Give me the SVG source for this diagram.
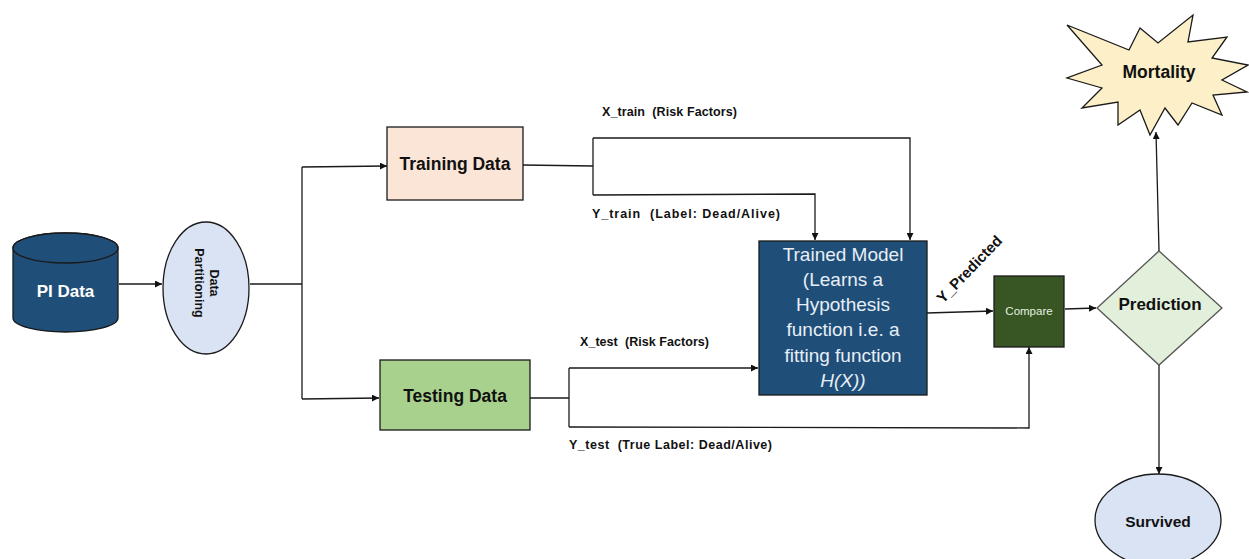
<svg xmlns="http://www.w3.org/2000/svg" width="1249" height="559" viewBox="0 0 1249 559">
<style>
  text { font-family: "Liberation Sans", Arial, sans-serif; }
  .b { font-weight: bold; fill: #111; }
  .lbl { font-size: 12.5px; font-weight: bold; fill: #111; white-space: pre; }
  .edge { fill: none; stroke: #1a1a1a; stroke-width: 1.3; }
  .node { stroke: #1a1a1a; stroke-width: 1.3; }
</style>
<defs>
  <marker id="arr" viewBox="0 0 10 10" refX="10" refY="5" markerWidth="7" markerHeight="7" markerUnits="userSpaceOnUse" orient="auto">
    <path d="M0,0 L10,5 L0,10 z" fill="#111"/>
  </marker>
</defs>
<rect width="1249" height="559" fill="#ffffff"/>

<g id="connectors">
  <line class="edge" x1="119" y1="284" x2="162" y2="284" marker-end="url(#arr)"/>
  <polyline class="edge" points="250,284 302,284"/>
  <polyline class="edge" points="302,167 302,399"/>
  <line class="edge" x1="302" y1="167" x2="387" y2="166" marker-end="url(#arr)"/>
  <line class="edge" x1="302" y1="399" x2="379" y2="398" marker-end="url(#arr)"/>
  <polyline class="edge" points="523,165 593,166"/>
  <polyline class="edge" points="593,138 593,195"/>
  <polyline class="edge" points="593,138 910,138 910,240" marker-end="url(#arr)"/>
  <polyline class="edge" points="593,195 815,194 815,240" marker-end="url(#arr)"/>
  <polyline class="edge" points="530,398 569,398"/>
  <polyline class="edge" points="569,368 569,427"/>
  <polyline class="edge" points="569,368 758,368" marker-end="url(#arr)"/>
  <polyline class="edge" points="569,427 1029,428 1029,347" marker-end="url(#arr)"/>
  <line class="edge" x1="927" y1="313" x2="993" y2="311" marker-end="url(#arr)"/>
  <line class="edge" x1="1065" y1="309" x2="1096" y2="308" marker-end="url(#arr)"/>
  <line class="edge" x1="1159" y1="251" x2="1156" y2="132" marker-end="url(#arr)"/>
  <line class="edge" x1="1159" y1="365" x2="1159" y2="474" marker-end="url(#arr)"/>
  <text class="lbl" x="602" y="116" textLength="135" lengthAdjust="spacing">X_train  (Risk Factors)</text>
  <text class="lbl" x="592" y="218" textLength="188" lengthAdjust="spacing">Y_train  (Label: Dead/Alive)</text>
  <text class="lbl" x="580" y="346" textLength="129" lengthAdjust="spacing">X_test  (Risk Factors)</text>
  <text class="lbl" x="569" y="449" textLength="203" lengthAdjust="spacing">Y_test  (True Label: Dead/Alive)</text>
  <text class="b" font-size="15" transform="translate(943,304) rotate(-46)">Y_Predicted</text>
</g>

<g id="pi-data">
  <path class="node" fill="#1f4e79" d="M13,248 L13,318 A52.5,14 0 0 0 118,318 L118,248 A52.5,15 0 0 0 13,248 Z"/>
  <ellipse class="node" fill="#1f4e79" cx="65.5" cy="248" rx="52.5" ry="15"/>
  <text x="65.5" y="297" font-size="17" font-weight="bold" text-anchor="middle" fill="#ffffff">PI Data</text>
</g>

<g id="data-partitioning">
  <ellipse class="node" fill="#dae3f3" cx="206" cy="288" rx="43" ry="66"/>
  <g transform="translate(206,283) rotate(90)">
    <text class="b" x="0" y="-4" font-size="12.5" text-anchor="middle">Data</text>
    <text class="b" x="0" y="11" font-size="12.5" text-anchor="middle">Partitioning</text>
  </g>
</g>

<g id="training-data">
  <rect class="node" fill="#fbe5d6" x="387" y="127" width="136" height="73"/>
  <text class="b" x="455" y="170" font-size="17.5" text-anchor="middle">Training Data</text>
</g>

<g id="testing-data">
  <rect class="node" fill="#a9d18e" x="380" y="360" width="150" height="70"/>
  <text class="b" x="455" y="402" font-size="17.5" text-anchor="middle">Testing Data</text>
</g>

<g id="trained-model">
  <rect class="node" fill="#1f4e79" x="759" y="241" width="168" height="154"/>
  <g font-size="19" text-anchor="middle" fill="#e8eef6">
    <text x="843" y="261">Trained Model</text>
    <text x="843" y="286">(Learns a</text>
    <text x="843" y="311">Hypothesis</text>
    <text x="843" y="336">function i.e. a</text>
    <text x="843" y="362">fitting function</text>
    <text x="843" y="387" font-style="italic">H(X))</text>
  </g>
</g>

<g id="compare">
  <rect class="node" fill="#375623" x="994" y="276" width="70" height="71"/>
  <text x="1029" y="315" font-size="11.5" text-anchor="middle" fill="#e8f0e0">Compare</text>
</g>

<g id="prediction">
  <polygon fill="#e2efda" stroke="#555" stroke-width="1.3" points="1159,251 1222,308 1159,365 1097,308"/>
  <text class="b" x="1160" y="310" font-size="17" text-anchor="middle">Prediction</text>
</g>

<g id="mortality">
  <polygon class="node" fill="#fdf0c8" stroke-width="1.6" points="1067,25 1129,50 1140,28 1158,43 1193,15 1188,42 1227,37 1212,58 1248,65 1222,80 1247,92 1213,95 1222,115 1192,103 1178,125 1165,108 1150,135 1140,110 1118,125 1118,102 1082,108 1102,88 1067,78 1102,65"/>
  <text class="b" x="1159" y="78" font-size="17.5" text-anchor="middle">Mortality</text>
</g>

<g id="survived">
  <ellipse class="node" fill="#dae3f3" stroke-width="1.6" cx="1158" cy="520" rx="63" ry="46"/>
  <text class="b" x="1158" y="527" font-size="15.5" text-anchor="middle">Survived</text>
</g>
</svg>
